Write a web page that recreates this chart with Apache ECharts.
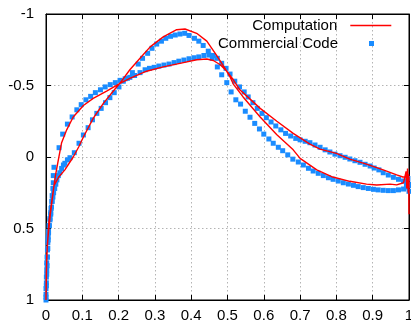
<!DOCTYPE html>
<html>
<head>
<meta charset="utf-8">
<script src="https://cdn.jsdelivr.net/npm/echarts@6/dist/echarts.min.js"></script>
<style>
html,body{margin:0;padding:0;background:#fff;}
#chart{width:411px;height:326px;}
</style>
</head>
<body>
<div id="chart"></div>
<script>
// ---- data ----
const seriesNames = ['Computation', 'Commercial Code'];
const xTickLabels = ['0','0.1','0.2','0.3','0.4','0.5','0.6','0.7','0.8','0.9','1'];
const yTickLabels = ['-1','-0.5','0','0.5','1'];

// Computation: branch A (trailing edge -> leading edge)
const compA = [
  [0.997,0.14],[0.983,0.14],[0.966,0.125],[0.929,0.09],[0.883,0.05],[0.837,0.015],
  [0.80,-0.025],[0.755,-0.055],[0.727,-0.09],[0.681,-0.165],[0.636,-0.25],[0.59,-0.34],
  [0.56,-0.41],[0.534,-0.47],[0.516,-0.54],[0.498,-0.60],[0.48,-0.645],[0.461,-0.675],
  [0.443,-0.685],[0.415,-0.68],[0.369,-0.655],[0.323,-0.63],[0.277,-0.60],[0.231,-0.55],
  [0.204,-0.515],[0.167,-0.46],[0.13,-0.41],[0.103,-0.36],[0.075,-0.28],[0.057,-0.19],
  [0.043,-0.10],[0.034,0.02],[0.026,0.13],[0.022,0.2],[0.012,0.4],[0.004,0.6],[0.001,0.8],[0.0,1.0]
];
// Computation: branch B (leading edge -> trailing edge)
const compB = [
  [0.002,0.7],[0.008,0.45],[0.022,0.2],[0.035,0.14],[0.052,0.09],[0.075,0.0],[0.09,-0.07],
  [0.103,-0.14],[0.13,-0.27],[0.158,-0.375],[0.185,-0.46],[0.208,-0.53],[0.231,-0.61],
  [0.259,-0.69],[0.287,-0.77],[0.323,-0.84],[0.36,-0.89],[0.383,-0.895],[0.415,-0.865],
  [0.443,-0.81],[0.47,-0.71],[0.493,-0.62],[0.507,-0.56],[0.516,-0.51],[0.543,-0.42],
  [0.59,-0.28],[0.636,-0.155],[0.681,-0.05],[0.70,0.01],[0.746,0.09],[0.79,0.14],
  [0.837,0.17],[0.883,0.19],[0.911,0.196],[0.948,0.19],[0.966,0.195],[0.985,0.18],
  [0.99,0.17],[0.992,0.10],[0.994,0.22],[0.996,0.08],[0.998,0.25],[0.999,0.12],[1.0,0.40],[1.0,0.14]
];

// Commercial Code: branch A (leading edge -> trailing edge, flat suction branch)
const commA = [
  [0.0,1.0],[0.0,0.96],[0.0,0.92],[0.001,0.88],[0.001,0.84],[0.002,0.79],[0.002,0.74],
  [0.003,0.70],[0.004,0.65],[0.005,0.60],[0.006,0.56],[0.007,0.52],[0.009,0.48],[0.011,0.44],
  [0.013,0.40],[0.014,0.36],[0.016,0.31],[0.017,0.27],[0.019,0.22],[0.02,0.18],[0.02,0.13],
  [0.022,0.072],[0.036,-0.065],[0.046,-0.16],[0.059,-0.23],[0.072,-0.28],[0.085,-0.33],
  [0.097,-0.366],[0.11,-0.40],[0.123,-0.424],[0.136,-0.45],[0.15,-0.47],[0.163,-0.49],
  [0.177,-0.506],[0.191,-0.52],[0.204,-0.536],[0.218,-0.547],[0.231,-0.557],[0.244,-0.57],
  [0.259,-0.59],[0.273,-0.61],[0.285,-0.62],[0.298,-0.627],[0.311,-0.636],[0.325,-0.643],
  [0.339,-0.65],[0.353,-0.66],[0.366,-0.67],[0.38,-0.678],[0.394,-0.687],[0.408,-0.694],
  [0.421,-0.70],[0.435,-0.71],[0.449,-0.713],[0.461,-0.71],[0.472,-0.69],[0.484,-0.655],
  [0.496,-0.62],[0.507,-0.58],[0.52,-0.53],[0.533,-0.49],[0.546,-0.455],[0.557,-0.42],
  [0.57,-0.38],[0.582,-0.34],[0.595,-0.305],[0.607,-0.275],[0.62,-0.245],[0.633,-0.217],
  [0.647,-0.19],[0.66,-0.165],[0.674,-0.147],[0.688,-0.13],[0.70,-0.12],[0.714,-0.11],
  [0.727,-0.10],[0.741,-0.084],[0.755,-0.068],[0.769,-0.05],[0.782,-0.035],[0.796,-0.02],
  [0.81,-0.009],[0.824,0.002],[0.837,0.014],[0.851,0.026],[0.865,0.037],[0.879,0.051],
  [0.893,0.063],[0.904,0.077],[0.917,0.09],[0.929,0.11],[0.943,0.126],[0.957,0.142],
  [0.971,0.156],[0.985,0.168],[0.993,0.18],[1.0,0.19]
];
// Commercial Code: branch B (leading edge -> trailing edge, peak branch)
const commB = [
  [0.0,0.98],[0.001,0.9],[0.002,0.82],[0.003,0.76],[0.004,0.70],[0.005,0.64],[0.006,0.58],
  [0.007,0.53],[0.009,0.48],[0.011,0.43],[0.013,0.39],[0.015,0.35],[0.017,0.31],[0.019,0.28],
  [0.021,0.25],[0.024,0.22],[0.027,0.19],[0.03,0.16],[0.034,0.13],[0.038,0.11],[0.043,0.08],
  [0.048,0.056],[0.052,0.044],[0.059,0.02],[0.066,0.005],[0.078,-0.03],[0.091,-0.096],
  [0.103,-0.154],[0.116,-0.205],[0.128,-0.26],[0.14,-0.305],[0.152,-0.34],[0.164,-0.38],
  [0.176,-0.415],[0.188,-0.45],[0.201,-0.49],[0.213,-0.53],[0.224,-0.55],[0.238,-0.59],
  [0.254,-0.65],[0.266,-0.69],[0.28,-0.725],[0.292,-0.76],[0.305,-0.79],[0.318,-0.81],
  [0.33,-0.83],[0.343,-0.844],[0.356,-0.853],[0.369,-0.86],[0.382,-0.865],[0.394,-0.85],
  [0.409,-0.83],[0.421,-0.81],[0.433,-0.78],[0.447,-0.74],[0.458,-0.69],[0.472,-0.63],
  [0.484,-0.575],[0.498,-0.52],[0.51,-0.455],[0.523,-0.40],[0.536,-0.37],[0.549,-0.32],
  [0.562,-0.278],[0.575,-0.235],[0.588,-0.196],[0.60,-0.16],[0.614,-0.126],[0.626,-0.096],
  [0.64,-0.068],[0.652,-0.044],[0.666,-0.015],[0.68,0.015],[0.695,0.035],[0.709,0.056],
  [0.723,0.079],[0.736,0.098],[0.75,0.114],[0.764,0.13],[0.778,0.145],[0.791,0.156],
  [0.805,0.168],[0.819,0.18],[0.833,0.189],[0.847,0.198],[0.86,0.207],[0.874,0.214],
  [0.888,0.22],[0.902,0.226],[0.915,0.23],[0.929,0.233],[0.943,0.235],[0.957,0.235],
  [0.971,0.23],[0.985,0.224],[0.993,0.21],[1.0,0.2],[0.997,0.15],[1.0,0.24]
];

// ---- chart ----
const FONT = '"Liberation Sans", Arial, sans-serif';
const chart = echarts.init(document.getElementById('chart'), null, {renderer: 'canvas'});
const gridLine = {show: true, lineStyle: {color: '#b4b4b4', type: [1.5, 2.5], width: 1}};
const axisLine = {show: true, onZero: false, lineStyle: {color: '#000', width: 1}};
const tick = {show: true, inside: true, length: 5, lineStyle: {color: '#000'}};

chart.setOption({
  animation: false,
  backgroundColor: '#fff',
  grid: {
    left: 46, right: 2, top: 14, bottom: 26, show: true, borderColor: '#000', borderWidth: 1,
    containLabel: false, outerBoundsMode: 'none'
  },
  legend: [
    {
      data: [seriesNames[0]], right: 19, top: 18, orient: 'vertical', align: 'right',
      padding: 0, itemWidth: 41, itemHeight: 2,
      itemStyle: {opacity: 0},
      lineStyle: {width: 1.4},
      textStyle: {fontFamily: FONT, fontSize: 15, color: '#000', padding: [0, 8, 0, 0]}
    },
    {
      data: [{name: seriesNames[1], icon: 'rect'}], right: 37, top: 36, orient: 'vertical', align: 'right',
      padding: 0, itemWidth: 5, itemHeight: 5,
      textStyle: {fontFamily: FONT, fontSize: 15, color: '#000', padding: [0, 26, 0, 0]}
    }
  ],
  xAxis: [
    {
      type: 'value', min: 0, max: 1, interval: 0.1, position: 'bottom',
      axisLine: axisLine, axisTick: tick, splitLine: gridLine,
      axisLabel: {
        fontFamily: FONT, fontSize: 15, color: '#000', margin: 8,
        formatter: v => xTickLabels[Math.round(v * 10)]
      }
    },
    {
      type: 'value', min: 0, max: 1, interval: 0.1, position: 'top',
      axisLine: axisLine, axisTick: tick, splitLine: {show: false}, axisLabel: {show: false}
    }
  ],
  yAxis: [
    {
      type: 'value', min: -1, max: 1, interval: 0.5, inverse: true, position: 'left',
      axisLine: axisLine, axisTick: tick, splitLine: gridLine,
      axisLabel: {
        fontFamily: FONT, fontSize: 15, color: '#000', margin: 12,
        formatter: v => yTickLabels[Math.round((v + 1) * 2)]
      }
    },
    {
      type: 'value', min: -1, max: 1, interval: 0.5, inverse: true, position: 'right',
      axisLine: axisLine, axisTick: tick, splitLine: {show: false}, axisLabel: {show: false}
    }
  ],
  series: [
    {
      name: seriesNames[0], type: 'line', xAxisIndex: 0, yAxisIndex: 0,
      data: compA.concat(compB), showSymbol: false, symbol: 'none', smooth: false, clip: false,
      lineStyle: {color: '#ff0000', width: 1.4}, itemStyle: {color: '#ff0000'}, z: 3
    },
    {
      name: seriesNames[1], type: 'scatter', xAxisIndex: 0, yAxisIndex: 0,
      data: commA.concat(commB), symbol: 'rect', symbolSize: 5, clip: false,
      itemStyle: {color: '#1a8cff', opacity: 1}, z: 2
    }
  ]
});
</script>
</body>
</html>
